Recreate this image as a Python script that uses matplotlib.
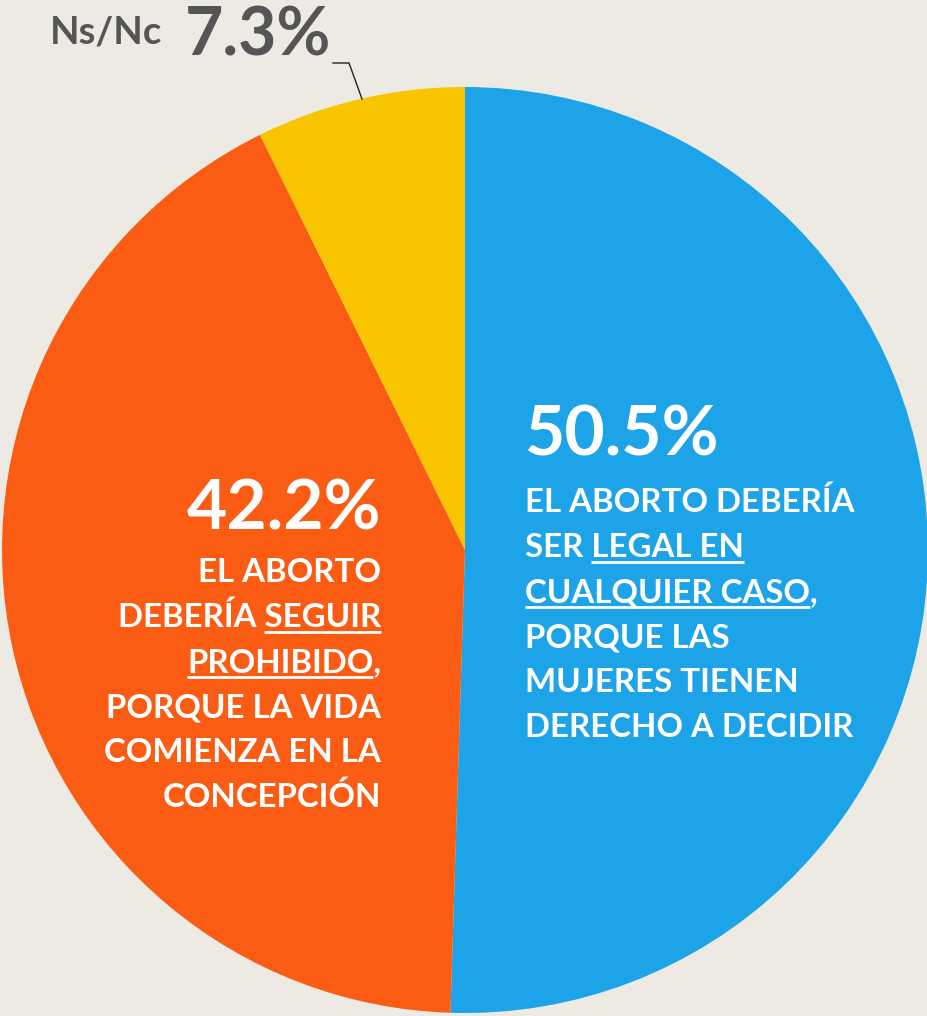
import matplotlib
matplotlib.use("Agg")
import matplotlib.pyplot as plt

# ---- data ----
labels = ["Legal en cualquier caso", "Seguir prohibido", "Ns/Nc"]
values = [50.5, 42.2, 7.3]
colors = ["#1DA3E8", "#F95C12", "#F9C400"]
pct_texts = ["50.5%", "42.2%", "7.3%"]

W, H = 927, 1016
BG = "#ECEAE2"
FONT = "Lato"

fig = plt.figure(figsize=(W / 100, H / 100), dpi=100, facecolor=BG)
ax = fig.add_axes([0, 0, 1, 1])
ax.set_facecolor(BG)

def Y(y):
    return H - y

ax.pie(values, colors=colors, startangle=90, counterclock=False,
       center=(465, Y(550)), radius=463,
       wedgeprops=dict(linewidth=0))
ax.set_xlim(0, W)
ax.set_ylim(0, H)
ax.set_aspect("auto")
ax.axis("off")

renderer = fig.canvas.get_renderer()

def width(s, size):
    t = ax.text(0, 0, s, fontsize=size, fontweight="bold", family=FONT)
    w = t.get_window_extent(renderer).width
    t.remove()
    return w

def underline(x0, x1, y):
    ax.plot([x0, x1], [Y(y), Y(y)], color="white", lw=2.0, solid_capstyle="butt")

BODY = 23.8
BIG = 50

# ---- blue block (left aligned at x=525) ----
bx = 525
ax.text(bx, Y(455), pct_texts[0], fontsize=BIG, fontweight="bold", family=FONT,
        color="white", ha="left", va="baseline")
blue_lines = ["EL ABORTO DEBERÍA", "SER LEGAL EN", "CUALQUIER CASO,",
              "PORQUE LAS", "MUJERES TIENEN", "DERECHO A DECIDIR"]
for i, s in enumerate(blue_lines):
    ax.text(bx, Y(512 + 45 * i), s, fontsize=BODY, fontweight="bold", family=FONT,
            color="white", ha="left", va="baseline")
wfull = width("SER LEGAL EN", BODY)
wpart = width("LEGAL EN", BODY)
underline(bx + wfull - wpart, bx + wfull, 562)
underline(bx, bx + width("CUALQUIER CASO", BODY), 607)

# ---- orange block (right aligned at x=381) ----
ox = 381
ax.text(ox, Y(530), pct_texts[1], fontsize=BIG, fontweight="bold", family=FONT,
        color="white", ha="right", va="baseline")
orange_lines = ["EL ABORTO", "DEBERÍA SEGUIR", "PROHIBIDO,", "PORQUE LA VIDA",
                "COMIENZA EN LA", "CONCEPCIÓN"]
for i, s in enumerate(orange_lines):
    ax.text(ox, Y(582 + 45 * i), s, fontsize=BODY, fontweight="bold", family=FONT,
            color="white", ha="right", va="baseline")
underline(ox - width("SEGUIR", BODY), ox, 632)
wp = width("PROHIBIDO,", BODY)
wc = wp - width("PROHIBIDO", BODY)
underline(ox - wp, ox - wc, 677)

# ---- Ns/Nc label ----
ax.text(50, Y(43), "Ns/Nc", fontsize=27.5, fontweight="bold", family=FONT,
        color="#555555", ha="left", va="baseline")
ax.text(185, Y(55), pct_texts[2], fontsize=47.5, fontweight="bold", family=FONT,
        color="#555555", ha="left", va="baseline")
ax.plot([333, 349, 362], [Y(63), Y(63), Y(99)], color="#222222", lw=1.0)

fig.savefig("out.png", dpi=100, facecolor=BG)
